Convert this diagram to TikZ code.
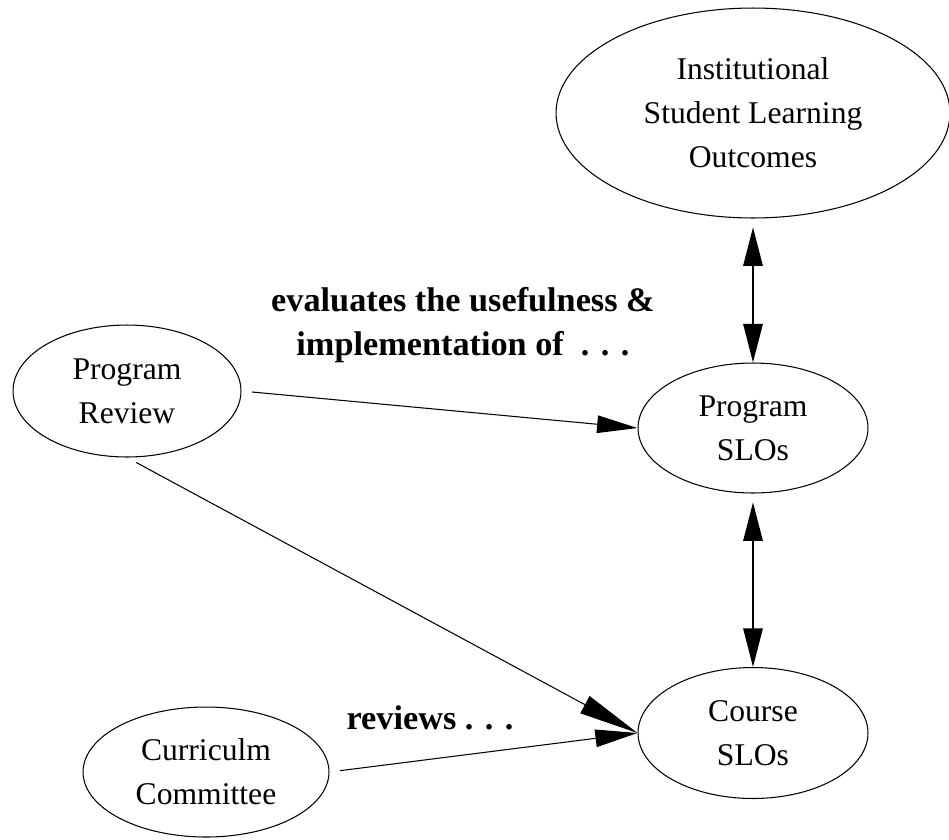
\documentclass[tikz,border=0pt]{standalone}
\usepackage{fontspec}
\setmainfont{Liberation Serif}
\usetikzlibrary{shapes.geometric, arrows.meta}

\begin{document}
\begin{tikzpicture}[
    x=0.02cm, y=-0.02cm,
    every node/.style={font=\fontsize{18}{25}\selectfont},
    oval/.style={ellipse, draw, line width=0.6pt, inner sep=0pt, align=center},
    note/.style={font=\fontsize{19.5}{25}\selectfont\bfseries, align=center},
    link/.style={line width=0.6pt, shorten <=6pt},
    pair/.style={line width=1.2pt, {Triangle[length=22pt,width=11pt]}-{Triangle[length=22pt,width=11pt]}, shorten <=5pt}
]
\useasboundingbox (0,0) rectangle (949,839);

% outcomes column
\node[oval, minimum width=7.88cm, minimum height=4.2cm] (inst) at (753,113) {Institutional\\Student Learning\\Outcomes};
\node[oval, minimum width=4.6cm, minimum height=2.6cm] (pslo) at (753,428) {Program\\SLOs};
\node[oval, minimum width=4.6cm, minimum height=2.62cm] (cslo) at (753,733) {Course\\SLOs};

% reviewing bodies
\node[oval, minimum width=4.56cm, minimum height=2.64cm] (prev) at (127,391) {Program\\Review};
\node[oval, minimum width=4.92cm, minimum height=2.6cm] (ccom) at (206,772) {Curriculm\\Committee};

% edge labels
\node[note] (evaltxt) at (463,325) {evaluates the usefulness \&\\implementation of\ \ . . .};
\node[note] (revtxt) at (430,718) {reviews . . .};

\draw[pair] (inst.south) -- (pslo.north);
\draw[pair] (pslo.south) -- (cslo.north);
\draw[link, -{Triangle[length=23pt,width=10pt]}] (prev.east) -- (pslo.west);
\draw[link, -{Triangle[length=34pt,width=11pt]}] (prev.south) -- (cslo.west);
\draw[link, -{Triangle[length=24pt,width=10pt]}] (ccom.east) -- (cslo.west);
\end{tikzpicture}
\end{document}
